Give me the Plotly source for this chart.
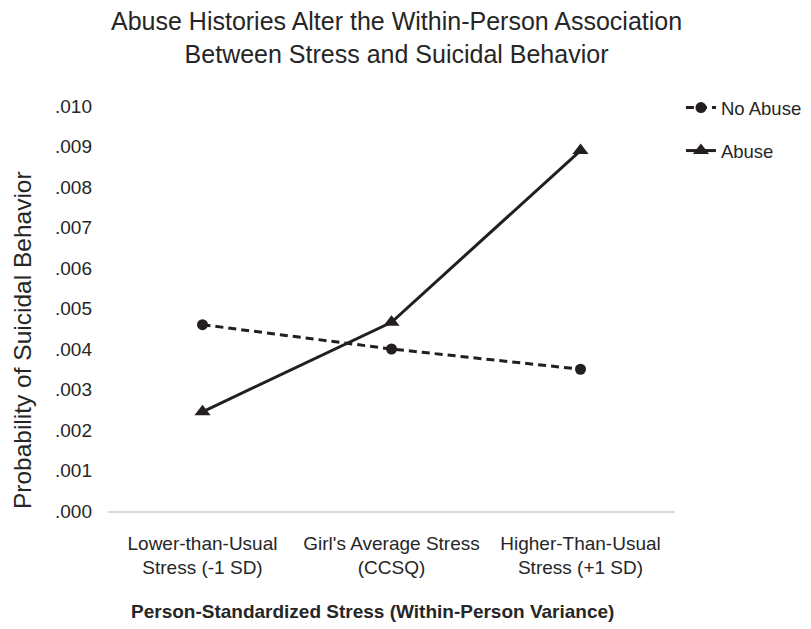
import plotly.graph_objects as go

categories = ["Lower-than-Usual<br>Stress (-1 SD)", "Girl's Average Stress<br>(CCSQ)", "Higher-Than-Usual<br>Stress (+1 SD)"]
no_abuse = [0.0046, 0.0040, 0.0035]
abuse = [0.00245, 0.00466, 0.0089]
tick_vals = [0.000, 0.001, 0.002, 0.003, 0.004, 0.005, 0.006, 0.007, 0.008, 0.009, 0.010]
tick_text = [".000", ".001", ".002", ".003", ".004", ".005", ".006", ".007", ".008", ".009", ".010"]

FONT = "Liberation Sans, Arial, sans-serif"
INK = "#231f20"
TXT = "#262626"

fig = go.Figure()
fig.add_trace(go.Scatter(
    x=categories, y=no_abuse, name="No Abuse", mode="lines+markers",
    line=dict(color=INK, width=3, dash="8px,5px"),
    marker=dict(symbol="circle", size=11, color=INK),
    legendgroup="a",
))
fig.add_trace(go.Scatter(
    x=categories, y=abuse, name="Abuse", mode="lines+markers",
    line=dict(color=INK, width=3),
    marker=dict(symbol="triangle-up", size=14, color=INK),
    legendgroup="b",
))

fig.update_layout(
    width=811, height=629,
    margin=dict(l=100, r=139, t=98, b=126),
    paper_bgcolor="white", plot_bgcolor="white",
    font=dict(family=FONT, color=TXT, size=19),
    showlegend=True,
    legend=dict(
        x=1.0105, xanchor="left", y=1.042, yanchor="top",
        font=dict(size=18.5, family=FONT, color=TXT),
        traceorder="grouped", tracegroupgap=16,
        bgcolor="rgba(0,0,0,0)",
    ),
    xaxis=dict(
        type="category", range=[-0.5, 2.5],
        showline=True, linecolor="#d9d9d9", linewidth=1.5,
        showgrid=False, zeroline=False, ticks="",
        ticklabelstandoff=14,
        tickfont=dict(size=19, family=FONT, color=TXT),
    ),
    yaxis=dict(
        range=[0, 0.010], tickvals=tick_vals, ticktext=tick_text,
        showline=False, showgrid=False, zeroline=False, ticks="",
        ticklabelstandoff=15,
        tickfont=dict(size=19, family=FONT, color=TXT),
    ),
    annotations=[
        dict(text="Abuse Histories Alter the Within-Person Association<br>Between Stress and Suicidal Behavior",
             xref="paper", yref="paper", x=0.509, y=1.169, xanchor="center", yanchor="middle",
             showarrow=False, font=dict(size=25, family=FONT, color=TXT)),
        dict(text="Probability of Suicidal Behavior", textangle=-90,
             xref="paper", yref="paper", x=0, y=0.422, xanchor="center", yanchor="middle",
             xshift=-86, showarrow=False, font=dict(size=24.5, family=FONT, color=TXT)),
        dict(text="<b>Person-Standardized Stress (Within-Person Variance)</b>",
             xref="paper", yref="paper", x=0.467, y=-0.249, xanchor="center", yanchor="middle",
             showarrow=False, font=dict(size=19, family=FONT, color=TXT)),
    ],
)

fig.write_html("out.html")
